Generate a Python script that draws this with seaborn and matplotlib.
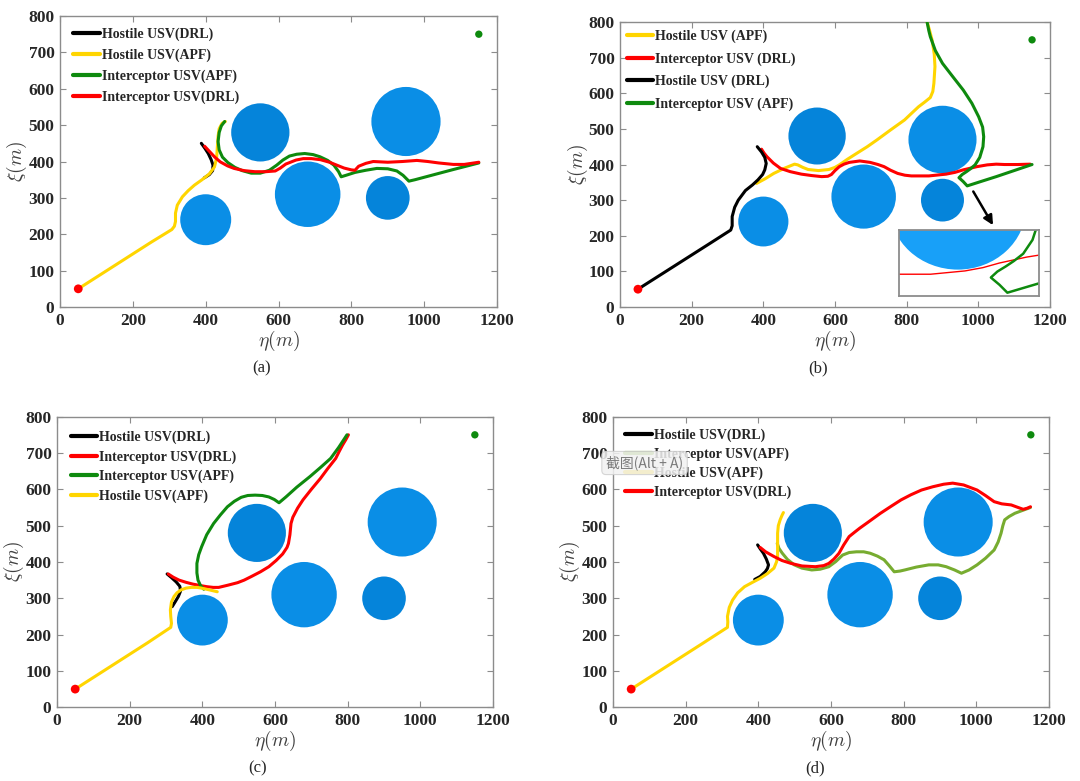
import numpy as np
import pandas as pd
import matplotlib
matplotlib.use("Agg")
import matplotlib.pyplot as plt
import seaborn as sns
from matplotlib.patches import Circle

sns.set_theme(style="ticks")
plt.rcParams['font.family'] = ['Liberation Serif', 'DejaVu Serif']
plt.rcParams['mathtext.fontset'] = 'cm'

# ---- obstacles (x, y, radius) ----
obstacles_ac = [(400, 240, 70), (550, 480, 80), (680, 310, 90), (900, 300, 60), (950, 510, 95)]
obstacles_b = [(400, 240, 70), (550, 480, 80), (680, 310, 90), (900, 300, 60), (900, 470, 95)]
dark_obstacles = [(550, 480), (900, 300)]
start_hostile = (50, 50)
start_interceptor = (1150, 750)

# ---- panel (a) ----
a_hostile_drl = [(388, 450), (398, 436), (407, 422), (415, 405), (420, 390), (419, 375), (410, 364), (396, 355)]
a_hostile_apf = [(50, 50), (100, 82), (150, 114), (200, 146), (250, 178), (307, 213), (314, 222), (317, 235),
                 (317, 258), (322, 280), (336, 303), (352, 320), (369, 335), (390, 350), (410, 366), (424, 385),
                 (430, 410), (432, 440), (434, 470), (437, 490), (445, 505), (454, 510)]
a_inter_apf = [(452, 510), (443, 498), (437, 480), (434, 455), (437, 432), (446, 412), (461, 397), (480, 384),
               (500, 375), (525, 368), (550, 368), (575, 376), (595, 390), (612, 404), (630, 415), (650, 420),
               (672, 422), (695, 419), (714, 413), (735, 403), (752, 390), (765, 372), (772, 358), (785, 362),
               (810, 370), (840, 376), (870, 381), (900, 380), (925, 374), (942, 362), (958, 346), (975, 350),
               (1020, 362), (1080, 378), (1150, 396)]
a_inter_drl = [(397, 442), (411, 427), (425, 412), (440, 399), (460, 388), (478, 381), (505, 375), (535, 372),
               (565, 372), (591, 374), (605, 382), (620, 393), (648, 404), (668, 408), (690, 408), (715, 405),
               (740, 398), (760, 390), (780, 382), (800, 377), (810, 376), (820, 387), (840, 395), (860, 400),
               (900, 398), (940, 400), (980, 403), (1010, 400), (1040, 396), (1080, 392), (1110, 392), (1150, 398)]

# ---- panel (b) ----
b_hostile_apf = [(381, 347), (405, 360), (429, 375), (460, 390), (487, 401), (496, 399), (510, 392), (525, 386),
                 (554, 383), (583, 386), (600, 392), (612, 399), (635, 415), (660, 431), (690, 450), (717, 469),
                 (755, 497), (794, 525), (815, 545), (833, 562), (850, 575), (866, 588), (873, 605), (876, 628),
                 (879, 675), (877, 710), (871, 749), (863, 780), (857, 800)]
b_inter_drl = [(395, 443), (402, 432), (410, 422), (428, 404), (448, 389), (475, 380), (506, 373), (535, 369),
               (563, 366), (580, 367), (590, 372), (600, 383), (612, 394), (625, 401), (640, 406), (669, 410),
               (698, 406), (720, 400), (737, 394), (755, 384), (775, 375), (795, 370), (813, 368), (862, 368),
               (910, 373), (935, 378), (958, 385), (996, 394), (1025, 399), (1050, 401), (1073, 400), (1110, 400),
               (1145, 401)]
b_hostile_drl = [(50, 50), (100, 82), (150, 114), (200, 146), (250, 178), (309, 216), (313, 228), (313, 254),
                 (320, 280), (330, 300), (350, 327), (370, 343), (385, 357), (398, 372), (404, 385), (408, 403),
                 (404, 420), (395, 435), (383, 450)]
b_inter_apf = [(857, 800), (862, 775), (866, 759), (880, 720), (900, 684), (930, 645), (958, 609), (982, 572),
               (1001, 534), (1012, 505), (1015, 478), (1013, 450), (1004, 420), (991, 399), (978, 388), (967, 380),
               (955, 372), (946, 363), (958, 352), (969, 340), (1000, 350), (1050, 366), (1100, 383), (1150, 400)]

# ---- panel (c) ----
c_hostile_drl = [(303, 367), (315, 357), (328, 345), (338, 333), (340, 320), (334, 305), (325, 290), (317, 277)]
c_inter_drl = [(306, 367), (320, 358), (336, 350), (355, 344), (374, 339), (395, 335), (412, 332), (430, 330),
               (445, 330), (470, 336), (497, 343), (515, 350), (535, 360), (560, 373), (583, 387), (603, 404),
               (621, 422), (633, 440), (637, 451), (641, 475), (644, 506), (649, 523), (662, 548), (677, 571),
               (700, 600), (725, 630), (745, 657), (767, 685), (777, 705), (786, 722), (795, 737), (802, 750)]
c_inter_apf = [(404, 325), (395, 335), (388, 350), (385, 370), (385, 396), (390, 420), (398, 442), (412, 475),
               (431, 506), (450, 530), (469, 552), (488, 567), (507, 578), (525, 583), (545, 584), (565, 583),
               (583, 579), (598, 572), (611, 563), (630, 579), (660, 606), (696, 635), (725, 660), (753, 685),
               (775, 715), (798, 750)]
c_hostile_apf = [(50, 50), (100, 82), (150, 114), (200, 146), (250, 178), (313, 220), (315, 231), (313, 250),
                 (312, 268), (315, 290), (322, 305), (330, 315), (341, 323), (355, 328), (369, 330), (385, 330),
                 (398, 328), (420, 323), (441, 318)]

# ---- panel (d) ----
d_hostile_drl = [(398, 447), (406, 435), (414, 424), (422, 408), (428, 392), (425, 382), (419, 373), (405, 360),
                 (390, 352)]
d_inter_apf = [(452, 451), (457, 437), (466, 424), (480, 407), (499, 392), (520, 383), (547, 378), (570, 380),
               (594, 387), (613, 401), (632, 419), (650, 426), (670, 428), (690, 428), (708, 424), (728, 416),
               (746, 406), (760, 390), (774, 373), (790, 375), (803, 378), (835, 386), (869, 392), (895, 392),
               (917, 387), (940, 378), (959, 369), (980, 378), (1002, 392), (1025, 410), (1049, 433), (1060, 455),
               (1068, 479), (1073, 500), (1078, 516), (1090, 525), (1106, 534), (1130, 543), (1149, 550)]
d_hostile_apf = [(50, 50), (100, 82), (150, 114), (200, 146), (250, 178), (315, 220), (316, 235), (315, 250),
                 (320, 275), (329, 295), (343, 315), (362, 332), (384, 344), (405, 355), (425, 368), (443, 383),
                 (450, 400), (453, 415), (453, 450), (453, 479), (455, 500), (460, 516), (465, 528), (469, 536)]
d_inter_drl = [(405, 440), (420, 428), (443, 415), (465, 404), (490, 396), (520, 389), (557, 387), (580, 390),
               (594, 396), (608, 408), (622, 424), (635, 447), (650, 470), (665, 482), (679, 493), (700, 508),
               (736, 534), (765, 553), (793, 571), (820, 585), (849, 598), (880, 607), (910, 614), (935, 617),
               (965, 612), (1002, 598), (1025, 583), (1049, 566), (1070, 560), (1096, 557), (1115, 550),
               (1129, 545), (1140, 548), (1149, 552)]

x_ticks = [0, 200, 400, 600, 800, 1000, 1200]
y_ticks = [0, 100, 200, 300, 400, 500, 600, 700, 800]

BLACK = '#000000'
YELLOW = '#FFD500'
GREEN = '#0E8A0E'
OLIVE = '#77AC30'
RED = '#FF0000'
BLUE = '#0A8EE6'
DARK_BLUE = '#0584DA'
GRID_GRAY = '#8c8c8c'


def draw_path(ax, pts, color, label, lw=2.2, z=3):
    df = pd.DataFrame(pts, columns=['x', 'y'])
    sns.lineplot(data=df, x='x', y='y', sort=False, estimator=None, color=color,
                 lw=lw, label=label, ax=ax, zorder=z)


def setup(ax, obstacles):
    for cx, cy, r in obstacles:
        c = DARK_BLUE if (cx, cy) in dark_obstacles else BLUE
        ax.add_patch(Circle((cx, cy), r, color=c, lw=0, zorder=1))
    ax.set_xlim(0, 1200)
    ax.set_ylim(0, 800)
    ax.set_xticks(x_ticks)
    ax.set_yticks(y_ticks)
    ax.tick_params(direction='in', top=True, right=True, length=4, width=0.8,
                   color=GRID_GRAY, labelsize=12.5, labelcolor='#262626', pad=4)
    for lab in ax.get_xticklabels() + ax.get_yticklabels():
        lab.set_fontweight('bold')
    for s in ax.spines.values():
        s.set_color(GRID_GRAY)
        s.set_linewidth(1.0)


def finish(ax, anchor, spacing):
    sns.scatterplot(x=[start_hostile[0]], y=[start_hostile[1]], color=RED, s=40, edgecolor='none',
                    ax=ax, zorder=5)
    sns.scatterplot(x=[start_interceptor[0]], y=[start_interceptor[1]], color=GREEN, s=28,
                    edgecolor='none', ax=ax, zorder=5)
    leg = ax.legend(loc='upper left', bbox_to_anchor=anchor, frameon=False, borderpad=0,
                    borderaxespad=0, handlelength=1.9, handletextpad=0.15, labelspacing=spacing,
                    prop={'family': 'Liberation Serif', 'weight': 'bold', 'size': 10})
    for h in leg.get_lines():
        h.set_linewidth(3)
    ax.set_xlabel(r'$\eta(m)$', fontsize=14, color='#404040')
    ax.set_ylabel(r'$\xi(m)$', fontsize=14, color='#404040')
    ax.xaxis.set_label_coords(0.5, -0.075)
    ax.yaxis.set_label_coords(-0.071, 0.5)


fig = plt.figure(figsize=(10.8, 7.81), dpi=100)

# (a)
ax_a = fig.add_axes([0.0556, 0.6069, 0.4046, 0.3726])
setup(ax_a, obstacles_ac)
draw_path(ax_a, a_hostile_drl, BLACK, 'Hostile USV(DRL)')
draw_path(ax_a, a_hostile_apf, YELLOW, 'Hostile USV(APF)')
draw_path(ax_a, a_inter_apf, GREEN, 'Interceptor USV(APF)')
draw_path(ax_a, a_inter_drl, RED, 'Interceptor USV(DRL)')
finish(ax_a, (0.03, 0.962), 0.56)

# (b)
ax_b = fig.add_axes([0.5741, 0.6069, 0.3981, 0.3649])
setup(ax_b, obstacles_b)
draw_path(ax_b, b_hostile_apf, YELLOW, 'Hostile USV (APF)')
draw_path(ax_b, b_inter_drl, RED, 'Interceptor USV (DRL)')
draw_path(ax_b, b_hostile_drl, BLACK, 'Hostile USV (DRL)')
draw_path(ax_b, b_inter_apf, GREEN, 'Interceptor USV (APF)')
finish(ax_b, (0.016, 0.972), 0.64)
ax_b.annotate('', xy=(1045, 223), xytext=(982, 331),
              arrowprops=dict(arrowstyle='-|>', color='black', lw=1.8, mutation_scale=14))

# inset of (b): zoom on the upper obstacle's lower edge
ax_in = fig.add_axes([0.8324, 0.621, 0.1296, 0.0845])
cx, cy, r = obstacles_b[4]
ax_in.add_patch(Circle((cx, cy), r, color='#18A0F8', lw=0, zorder=1))
for pts, col, w in [(b_inter_drl, RED, 1.0), (b_inter_apf, GREEN, 1.8)]:
    df = pd.DataFrame(pts, columns=['x', 'y'])
    sns.lineplot(data=df, x='x', y='y', sort=False, estimator=None, color=col, lw=w, ax=ax_in)
ax_in.set_xlim(818, 1013)
ax_in.set_ylim(335, 435)
ax_in.set_xticks([])
ax_in.set_yticks([])
ax_in.set_xlabel('')
ax_in.set_ylabel('')
for s in ax_in.spines.values():
    s.set_color('#8c8c8c')
    s.set_linewidth(1.3)

# (c)
ax_c = fig.add_axes([0.0528, 0.0944, 0.4037, 0.3721])
setup(ax_c, obstacles_ac)
draw_path(ax_c, c_hostile_drl, BLACK, 'Hostile USV(DRL)')
draw_path(ax_c, c_inter_drl, RED, 'Interceptor USV(DRL)')
draw_path(ax_c, c_inter_apf, GREEN, 'Interceptor USV(APF)')
draw_path(ax_c, c_hostile_apf, YELLOW, 'Hostile USV(APF)')
finish(ax_c, (0.032, 0.951), 0.43)

# (d)
ax_d = fig.add_axes([0.5676, 0.0944, 0.4037, 0.3721])
setup(ax_d, obstacles_ac)
draw_path(ax_d, d_hostile_drl, BLACK, 'Hostile USV(DRL)')
draw_path(ax_d, d_inter_apf, OLIVE, 'Interceptor USV(APF)')
draw_path(ax_d, d_hostile_apf, YELLOW, 'Hostile USV(APF)')
draw_path(ax_d, d_inter_drl, RED, 'Interceptor USV(DRL)')
finish(ax_d, (0.028, 0.959), 0.4)

# screenshot tooltip left over in the source image
fig.text(606 / 1080, 1 - 463 / 781, '截图(Alt + A)', fontsize=10, color='#7a7a7a',
         family=['Noto Sans CJK SC', 'DejaVu Sans'], va='center', ha='left', zorder=20,
         bbox=dict(boxstyle='round,pad=0.3', fc='#f2f2f2', ec='#cfcfcf', alpha=0.85, lw=0.8))

# panel captions
for x, y, s in [(262, 368, '(a)'), (818, 368, '(b)'), (258, 768, '(c)'), (815, 768, '(d)')]:
    fig.text(x / 1080, 1 - y / 781, s, fontsize=12, ha='center', va='center',
             family='Liberation Serif', color='#262626')

fig.savefig('out.png', dpi=100)
